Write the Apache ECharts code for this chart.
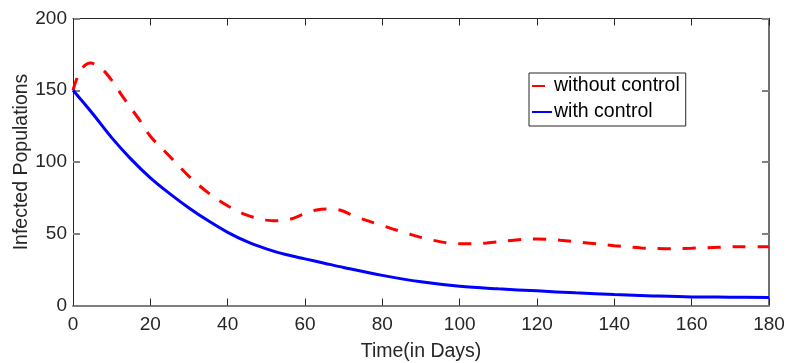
<!DOCTYPE html>
<html>
<head>
<meta charset="utf-8">
<script src="https://cdn.jsdelivr.net/npm/echarts@6/dist/echarts.min.js"></script>
<style>html,body{margin:0;padding:0;background:#fff}#c{width:787px;height:363px}</style>
</head>
<body>
<div id="c"></div>
<script>
// Data
const xTicks = [0, 20, 40, 60, 80, 100, 120, 140, 160, 180];
const yTicks = [0, 50, 100, 150, 200];

const tWithout = [0, 2, 4.5, 7, 10, 13, 17, 20, 25, 30, 35, 40, 45, 50, 53, 56, 60, 63, 66, 69, 73, 80, 86, 93, 100, 107, 114, 120, 126, 133, 140, 147, 153, 160, 167, 173, 180];
const vWithout = [150, 164, 169, 166, 157, 145, 130, 118, 104, 90, 78.5, 69.5, 63, 59.5, 59, 60, 64, 66.5, 67.2, 66.5, 62, 55.7, 50.6, 45.5, 43, 43.6, 45.5, 46.4, 45.5, 43.6, 41.7, 40.1, 39.6, 39.9, 40.6, 41, 41];

const tWith = [0, 5, 10, 15, 20, 25, 30, 35, 40, 45, 50, 55, 60, 65, 70, 80, 90, 100, 110, 120, 130, 140, 150, 160, 170, 180];
const vWith = [150, 134, 117, 102, 89, 78, 68, 59, 51, 44.5, 39.5, 35.5, 32.5, 29.5, 26.5, 21, 16.5, 13.4, 11.6, 10.2, 8.8, 7.6, 6.7, 6, 5.8, 5.6];

const seriesNames = ['without control', 'with control'];

const FONT = "'Liberation Sans', Arial, Helvetica, sans-serif";
const TXT = '#262626';

const pair = (ts, vs) => ts.map((t, i) => [t, vs[i]]);

const chart = echarts.init(document.getElementById('c'), null, {renderer: 'canvas'});

const xMin = xTicks[0], xMax = xTicks[xTicks.length - 1], xInt = xTicks[1] - xTicks[0];
const yMin = yTicks[0], yMax = yTicks[yTicks.length - 1], yInt = yTicks[1] - yTicks[0];

chart.setOption({
  animation: false,
  backgroundColor: '#ffffff',
  textStyle: {fontFamily: FONT},
  grid: {left: 73, right: 18, top: 18.5, bottom: 57.5, containLabel: false, outerBoundsMode: 'none'},
  legend: {
    data: seriesNames,
    orient: 'vertical',
    left: 529,
    top: 73,
    itemWidth: 20,
    itemHeight: 14,
    itemGap: 6,
    padding: [3, 6, 4, 2],
    borderColor: '#262626',
    borderWidth: 1,
    backgroundColor: '#ffffff',
    itemStyle: {opacity: 0, borderWidth: 0},
    textStyle: {fontSize: 19.5, color: '#000', fontFamily: FONT, padding: [0, 0, 0, -3], lineHeight: 20}
  },
  xAxis: [{
    type: 'value', min: xMin, max: xMax, interval: xInt,
    name: 'Time(in Days)', nameLocation: 'middle', nameGap: 36, nameMoveOverlap: false,
    nameTextStyle: {fontSize: 19.5, color: TXT, fontFamily: FONT},
    axisLine: {show: true, onZero: false, lineStyle: {color: '#808080', width: 2}},
    axisTick: {show: true, inside: true, length: 7, lineStyle: {color: '#262626', width: 1}},
    axisLabel: {fontSize: 19, color: TXT, margin: 10, fontFamily: FONT},
    splitLine: {show: false}
  }, {
    type: 'value', min: xMin, max: xMax, interval: xInt, position: 'top',
    axisLine: {show: true, onZero: false, lineStyle: {color: '#262626', width: 1}},
    axisTick: {show: true, inside: true, length: 7, lineStyle: {color: '#262626', width: 1}},
    axisLabel: {show: false},
    splitLine: {show: false}
  }],
  yAxis: [{
    type: 'value', min: yMin, max: yMax, interval: yInt,
    name: 'Infected Populations', nameLocation: 'middle', nameGap: 41, nameMoveOverlap: false,
    nameTextStyle: {fontSize: 19.5, color: TXT, fontFamily: FONT},
    axisLine: {show: true, onZero: false, lineStyle: {color: '#262626', width: 1}},
    axisTick: {show: true, inside: true, length: 7, lineStyle: {color: '#808080', width: 2}},
    axisLabel: {fontSize: 19, color: TXT, margin: 6, fontFamily: FONT},
    splitLine: {show: false}
  }, {
    type: 'value', min: yMin, max: yMax, interval: yInt, position: 'right',
    axisLine: {show: true, onZero: false, lineStyle: {color: '#404040', width: 1.5}},
    axisTick: {show: true, inside: true, length: 7, lineStyle: {color: '#808080', width: 2}},
    axisLabel: {show: false},
    splitLine: {show: false}
  }],
  series: [{
    name: seriesNames[0],
    type: 'line',
    xAxisIndex: 0, yAxisIndex: 0,
    data: pair(tWithout, vWithout),
    smooth: 0.35,
    showSymbol: false,
    symbol: 'none',
    lineStyle: {color: '#ff0000', width: 3, type: [13, 12]},
    itemStyle: {color: '#ff0000'},
    z: 3
  }, {
    name: seriesNames[1],
    type: 'line',
    xAxisIndex: 0, yAxisIndex: 0,
    data: pair(tWith, vWith),
    smooth: 0.35,
    showSymbol: false,
    symbol: 'none',
    lineStyle: {color: '#0000ff', width: 3, type: 'solid'},
    itemStyle: {color: '#0000ff'},
    z: 4
  }]
});
</script>
</body>
</html>
